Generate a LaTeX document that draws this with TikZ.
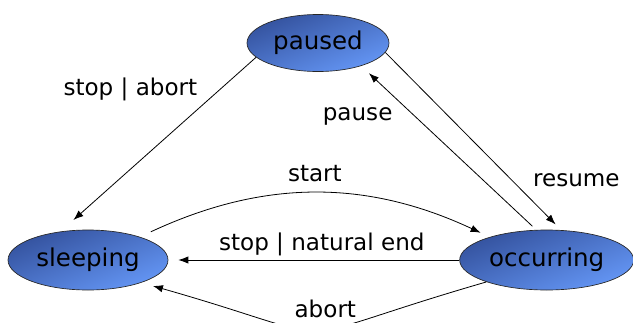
\documentclass[tikz,border=0pt]{standalone}
\usepackage{fontspec}
\setmainfont{DejaVu Sans}
\usetikzlibrary{arrows.meta,shapes.geometric,positioning}
\definecolor{stateDark}{RGB}{52,82,158}
\definecolor{stateLight}{RGB}{100,150,245}

\begin{document}
\begin{tikzpicture}[
  x=0.75pt,y=-0.75pt,
  node distance=0pt and 218.25pt,
  state/.style={ellipse,draw=black!85,line width=0.5pt,top color=stateDark,bottom color=stateLight,shading angle=22,inner sep=0pt,minimum height=45pt,font=\fontsize{18.4}{22}\selectfont},
  trans/.style={draw,line width=0.6pt,-{Latex[length=7.5pt,width=5.5pt]}},
  lbl/.style={inner sep=0pt,font=\fontsize{17.3}{20}\selectfont}
]
  \useasboundingbox (0,0) rectangle (633,322);

  \node[state,minimum width=120pt] (sleeping) at (88,260) {sleeping};
  \node[state,minimum width=130.5pt,right=of sleeping] (occurring) {occurring};
  \node[state,minimum width=106.5pt,minimum height=42.75pt] (paused) at (318,43) {paused};

  \draw[trans,shorten >=13pt]
    (paused.193) -- node[lbl,pos=.222,anchor=base east,xshift=-11.3pt]{stop | abort} (sleeping.134);
  \draw[trans,shorten <=4pt,shorten >=8pt]
    (occurring.109) -- node[lbl,pos=.67,anchor=base east,xshift=-19.6pt]{pause} (paused.332);
  \draw[trans,shorten >=6pt]
    (paused.352) -- node[lbl,pos=.756,anchor=base west,xshift=10.8pt]{resume} (occurring.64);
  \draw[trans,shorten <=9pt,shorten >=7.5pt]
    (sleeping.24) to[bend left=25] node[lbl,anchor=base,yshift=8.8pt]{start} (occurring.158);
  \draw[trans,shorten >=7.5pt]
    (occurring.west) -- node[lbl,pos=.4725,anchor=base,yshift=7.5pt]{stop | natural end} (sleeping.east);
  \draw[trans,shorten >=9pt]
    (occurring.200) to[bend left=16,looseness=1.7] node[lbl,pos=.44,anchor=base,yshift=8.5pt]{abort} (sleeping.337);
\end{tikzpicture}
\end{document}
